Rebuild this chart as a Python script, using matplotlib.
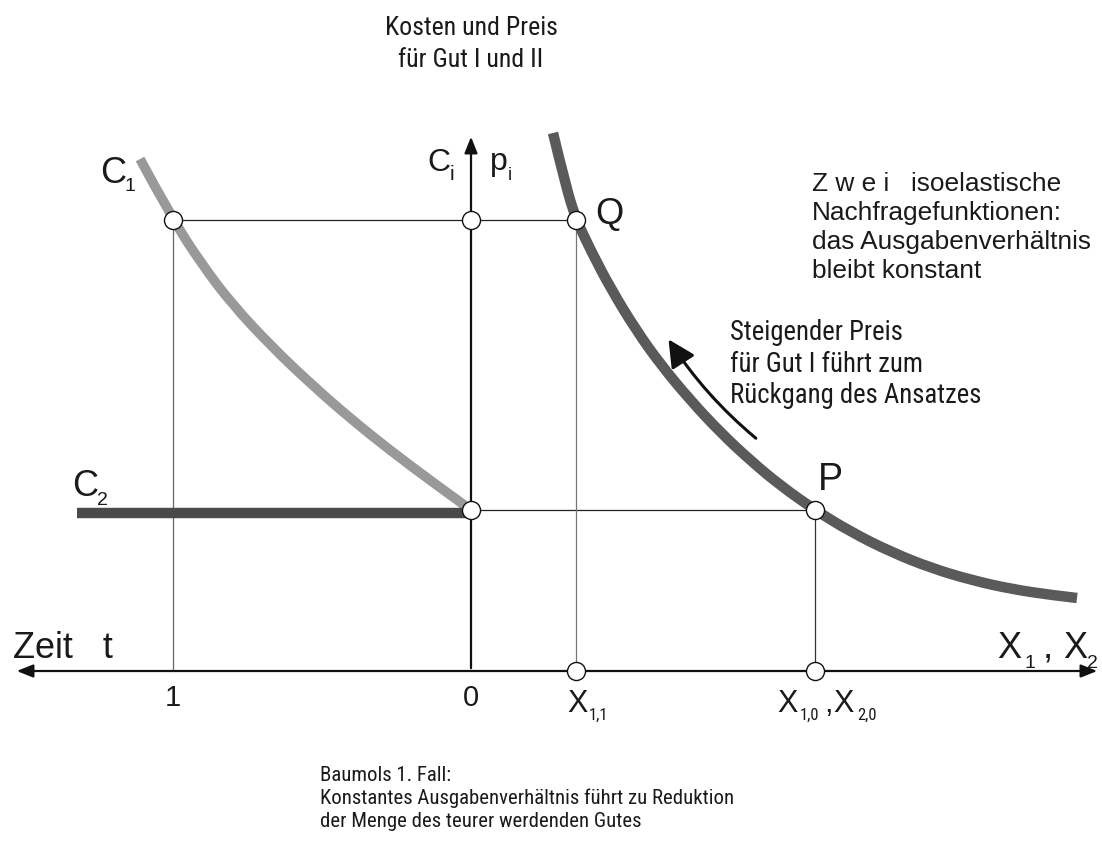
import matplotlib
matplotlib.use("Agg")
import matplotlib.pyplot as plt
from matplotlib.patches import FancyArrowPatch, PathPatch
from matplotlib.path import Path
from matplotlib import font_manager as fm

plt.rcParams['font.family'] = ['Liberation Sans', 'DejaVu Sans']

# look for an installed condensed sans face (the reference uses a narrow Helvetica-like type)
_pref = ['liberation sans narrow', 'arial narrow', 'dejavu sans condensed', 'roboto condensed',
         'open sans condensed', 'noto sans condensed', 'dejavu sans']
_cond = None
for _p in _pref:
    for _f in fm.fontManager.ttflist:
        _n = _f.name.lower()
        if _n != _p:
            continue
        if _f.style != 'normal' or str(_f.weight) not in ('400', 'normal', 'regular', 'book'):
            continue
        if _p == 'dejavu sans' and 'condensed' not in _f.stretch and 'condensed' not in _f.fname.lower():
            continue
        _cond = _f.fname
        break
    if _cond:
        break
COND = dict(fontproperties=fm.FontProperties(fname=_cond)) if _cond else dict(family='Liberation Sans')

# ---- data (diagram units: x to the right = quantity, x to the left = time, y = cost/price) ----
# cost curve C1 over time (left half, time runs to the left)
c1_x = [-331, -298, -270, -240, -200, -160, -120, -80, -40, 0]
c1_y = [512, 451, 408, 368, 325, 287, 252, 220, 190, 161]
# constant cost C2
c2_x = [-394, 0]
c2_y = [158, 158]
# isoelastic demand curve (right half)
d_x = [82, 95, 105, 120, 140, 165, 190, 220, 250, 280, 310, 344, 380, 420, 460, 500, 540, 580, 606]
d_y = [538, 484, 452, 420, 382, 341, 306, 270, 238, 210, 185, 161, 139, 119, 103, 91, 82, 76, 73]
# key levels
t_one = -298          # time t = 1
x11 = 105             # X_1,1
x10 = 344             # X_1,0 , X_2,0
p_high = 451          # price/cost at t = 1
p_low = 161           # initial price/cost
tick_labels = ["1", "0"]
tick_pos = [t_one, 0]

fig = plt.figure(figsize=(11.02, 8.41), dpi=100)
ax = fig.add_axes([0, 0, 1, 1])
ax.set_xlim(-471, 631)
ax.set_ylim(-170, 671)
ax.axis('off')
renderer = fig.canvas.get_renderer()

txt = '#1a1a1a'


def smooth_curve(xs, ys, **kw):
    """Quadratic B-spline style path through the read points (drawn by matplotlib's Path)."""
    verts = [(xs[0], ys[0])]
    codes = [Path.MOVETO]
    n = len(xs)
    for i in range(1, n - 1):
        if i < n - 2:
            end = ((xs[i] + xs[i + 1]) / 2, (ys[i] + ys[i + 1]) / 2)
        else:
            end = (xs[-1], ys[-1])
        verts += [(xs[i], ys[i]), end]
        codes += [Path.CURVE3, Path.CURVE3]
    ax.add_patch(PathPatch(Path(verts, codes), fill=False, **kw))


def _h(tobj):
    return tobj.get_window_extent(renderer).height


def fit_width(tobj, width_px):
    w = tobj.get_window_extent(renderer).width
    tobj.set_fontsize(tobj.get_fontsize() * width_px / w)


def fit_spacing(tobj, spacing_px):
    s = tobj.get_text()
    lines = s.split('\n')
    n = len(lines)
    tobj.set_linespacing(0.0)
    t0 = _h(tobj)
    tobj.set_linespacing(1.0)
    t1 = _h(tobj)
    a = (t1 - t0) / (n - 1)
    tobj.set_text(lines[0])
    h0 = _h(tobj)
    tobj.set_text(s)
    d = (t0 - h0) / (n - 1)
    tobj.set_linespacing((spacing_px - d) / a)


# axes arrows
ax.add_patch(FancyArrowPatch((-457, 0), (629, 0), arrowstyle='<|-|>,head_length=0.7,head_width=0.28',
                             mutation_scale=14, lw=1.6, color='#111111', zorder=3))
ax.add_patch(FancyArrowPatch((0, 0), (0, 537), arrowstyle='-|>,head_length=0.7,head_width=0.28',
                             mutation_scale=14, lw=1.6, color='#111111', zorder=3))

# guide lines
ax.plot([t_one, x11], [p_high, p_high], color='#222222', lw=0.9, zorder=2)
ax.plot([0, x10], [p_low, p_low], color='#222222', lw=0.9, zorder=2)
ax.plot([t_one, t_one], [0, p_high], color='#666666', lw=0.9, zorder=2)
ax.plot([x11, x11], [0, p_high], color='#777777', lw=0.9, zorder=2)
ax.plot([x10, x10], [0, p_low], color='#333333', lw=0.9, zorder=2)

# curves
smooth_curve(c1_x, c1_y, edgecolor='#999999', lw=7, capstyle='butt', zorder=4)
ax.plot(c2_x, c2_y, color='#4a4a4a', lw=7.5, solid_capstyle='butt', zorder=4)
smooth_curve(d_x, d_y, edgecolor='#5a5a5a', lw=7.5, capstyle='butt', zorder=4)

# circles
pts_x = [t_one, 0, x11, 0, x10, x11, x10]
pts_y = [p_high, p_high, p_high, p_low, p_low, 0, 0]
ax.plot(pts_x, pts_y, 'o', ms=13, mfc='white', mec='#111111', mew=1.0, zorder=6, linestyle='none')

# curved arrow along demand curve
ax.add_patch(FancyArrowPatch((287, 231), (196, 334), connectionstyle='arc3,rad=-0.08',
                             arrowstyle='-|>,head_length=1.1,head_width=0.55', mutation_scale=15,
                             lw=2.2, color='#111111', zorder=5))


# labels
def t(x, y, s, size, **kw):
    return ax.text(x, y, s, fontsize=size, color=txt, va='baseline', ha=kw.pop('ha', 'left'), **kw)


t(-371, 488, "C", 26)
t(-347, 480, "1", 14)
t(-399, 175, "C", 26)
t(-374, 166, "2", 14)
t(-44, 500, "C", 23)
t(-21, 491, "i", 15)
t(19, 501, "p", 23)
t(37, 491, "i", 13)
t(124, 447, "Q", 26)
t(347, 181, "P", 27)
t(-458, 13, "Zeit   t", 26)
t(526, 13, "X", 26)
t(554, 3, "1", 14)
t(572, 13, ",", 26)
t(592, 13, "X", 26)
t(616, 3, "2", 14)
for pos, lab in zip(tick_pos, tick_labels):
    t(pos, -35, lab, 21, ha='center')
t(96, -41, "X", 22)
t(118, -49, "1,1", 12, **COND)
t(306, -41, "X", 22)
t(329, -49, "1,0", 12, **COND)
t(353, -41, ",", 22)
t(362, -41, "X", 22)
t(386, -49, "2,0", 12, **COND)

k = ax.text(0, 604, "Kosten und Preis\nfür Gut I und II", fontsize=17, color=txt, ha='center',
            va='baseline', **COND)
fit_width(k, 173)
fit_spacing(k, 32)

z = ax.text(341, 393, "Z w e i   isoelastische\nNachfragefunktionen:\ndas Ausgabenverhältnis\nbleibt konstant",
            fontsize=19, color=txt, ha='left', va='baseline')
fit_width(z, 279)
fit_spacing(z, 29)

s = ax.text(259, 268, "Steigender Preis\nfür Gut I führt zum\nRückgang des Ansatzes",
            fontsize=17, color=txt, ha='left', va='baseline', **COND)
fit_width(s, 252)
fit_spacing(s, 31.5)

b = ax.text(-151, -156, "Baumols 1. Fall:\nKonstantes Ausgabenverhältnis führt zu Reduktion\nder Menge des teurer werdenden Gutes",
            fontsize=16, color=txt, ha='left', va='baseline', **COND)
fit_width(b, 415)
fit_spacing(b, 23)

fig.savefig("out.png", dpi=100)
